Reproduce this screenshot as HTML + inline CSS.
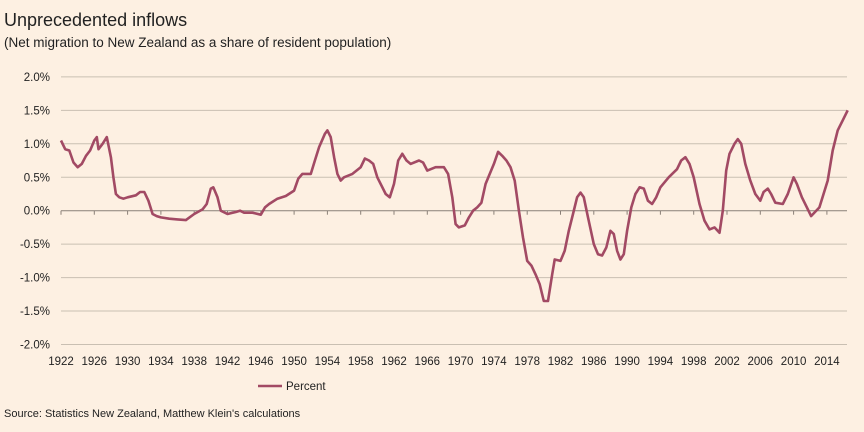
<!DOCTYPE html>
<html><head><meta charset="utf-8"><style>
body{margin:0;background:#fdf0e2;}
svg{display:block;font-family:"Liberation Sans",sans-serif;}
</style></head><body>
<svg id="c" width="864" height="432">
<rect width="864" height="432" fill="#fdf0e2"/>
<text x="4" y="26" font-size="18" fill="#222">Unprecedented inflows</text>
<text x="4" y="47" font-size="13.5" fill="#222">(Net migration to New Zealand as a share of resident population)</text>
<g id="grid"></g><g id="xax"></g>
<path id="ln" fill="none" stroke="#a24a64" stroke-width="2.6" stroke-linejoin="round"/>
<line x1="258" y1="386" x2="282" y2="386" stroke="#a24a64" stroke-width="2.6"/>
<text x="286" y="390" font-size="11.5" fill="#222">Percent</text>
<text x="4" y="417" font-size="11" fill="#222">Source: Statistics New Zealand, Matthew Klein's calculations</text>
</svg>
<script>
const yTicks=[2,1.5,1,0.5,0,-0.5,-1,-1.5,-2];
const xTicks=[1922,1926,1930,1934,1938,1942,1946,1950,1954,1958,1962,1966,1970,1974,1978,1982,1986,1990,1994,1998,2002,2006,2010,2014];
const years=[1922,1922.5,1923,1923.5,1924,1924.5,1925,1925.5,1926,1926.3,1926.5,1927,1927.5,1928,1928.3,1928.6,1929,1929.5,1930,1931,1931.5,1932,1932.5,1933,1933.5,1934,1935,1936,1937,1938,1939,1939.5,1940,1940.3,1940.8,1941.2,1942,1943,1943.5,1944,1945,1946,1946.5,1947,1948,1949,1950,1950.5,1951,1952,1952.5,1953,1953.7,1954,1954.4,1954.8,1955.2,1955.6,1956,1957,1958,1958.5,1959,1959.5,1960,1961,1961.5,1962,1962.5,1963,1963.5,1964,1965,1965.5,1966,1967,1968,1968.5,1969,1969.4,1969.8,1970.5,1971,1971.5,1972,1972.5,1973,1974,1974.5,1975,1975.5,1976,1976.5,1977,1977.5,1978,1978.5,1979,1979.5,1980,1980.5,1981,1981.3,1982,1982.5,1983,1983.5,1984,1984.4,1984.8,1985.3,1986,1986.5,1987,1987.5,1988,1988.4,1988.8,1989.2,1989.6,1990,1990.5,1991,1991.5,1992,1992.5,1993,1993.5,1994,1995,1996,1996.5,1997,1997.5,1998,1998.7,1999.3,1999.9,2000.5,2001.1,2001.5,2001.9,2002.3,2002.9,2003.3,2003.7,2004.2,2004.8,2005.4,2006,2006.4,2006.9,2007.3,2007.8,2008.7,2009.3,2010,2010.4,2011,2011.6,2012.1,2013.1,2014.1,2014.7,2015.3,2015.9,2016.5];
const values=[1.05,0.92,0.9,0.72,0.65,0.7,0.82,0.9,1.05,1.1,0.92,1.0,1.1,0.8,0.5,0.25,0.2,0.18,0.2,0.23,0.28,0.28,0.15,-0.05,-0.08,-0.1,-0.12,-0.13,-0.14,-0.05,0.02,0.1,0.33,0.35,0.2,0.0,-0.05,-0.02,0.0,-0.03,-0.03,-0.06,0.05,0.1,0.18,0.22,0.3,0.48,0.55,0.55,0.75,0.95,1.15,1.2,1.1,0.8,0.55,0.45,0.5,0.55,0.65,0.78,0.75,0.7,0.5,0.25,0.2,0.4,0.75,0.85,0.75,0.7,0.75,0.72,0.6,0.65,0.65,0.55,0.2,-0.2,-0.25,-0.22,-0.1,0.0,0.05,0.12,0.4,0.7,0.88,0.82,0.75,0.65,0.45,0.0,-0.4,-0.75,-0.82,-0.95,-1.1,-1.35,-1.35,-0.95,-0.73,-0.75,-0.6,-0.3,-0.05,0.2,0.27,0.2,-0.1,-0.5,-0.65,-0.67,-0.55,-0.3,-0.35,-0.6,-0.73,-0.65,-0.3,0.05,0.25,0.35,0.33,0.15,0.1,0.2,0.35,0.5,0.62,0.75,0.8,0.7,0.5,0.1,-0.15,-0.28,-0.25,-0.33,0.0,0.6,0.85,1.0,1.07,1.0,0.7,0.45,0.25,0.15,0.28,0.33,0.25,0.12,0.1,0.25,0.5,0.4,0.2,0.05,-0.08,0.05,0.45,0.9,1.2,1.35,1.5];
const X=y=>61+(y-1922)*(33.3/4);
const Y=v=>210.7-v*66.9;
const NS="http://www.w3.org/2000/svg";
const g=document.getElementById('grid'),xa=document.getElementById('xax');
yTicks.forEach(t=>{
 const l=document.createElementNS(NS,'line');
 l.setAttribute('x1',61);l.setAttribute('x2',847);l.setAttribute('y1',Y(t));l.setAttribute('y2',Y(t));
 l.setAttribute('stroke',t===0?'#8a8078':'#c9bfb2');l.setAttribute('stroke-width',1);
 
 
 g.appendChild(l);
 const tx=document.createElementNS(NS,'text');
 tx.setAttribute('x',50);tx.setAttribute('y',Y(t)+4);tx.setAttribute('text-anchor','end');tx.setAttribute('font-size','11.5');tx.setAttribute('fill','#222');
 tx.textContent=t.toFixed(1)+'%';
 
 
 g.appendChild(tx);
});
xTicks.forEach(t=>{
 const l=document.createElementNS(NS,'line');
 l.setAttribute('x1',X(t));l.setAttribute('x2',X(t));l.setAttribute('y1',Y(0));l.setAttribute('y2',Y(0)+4);
 l.setAttribute('stroke','#8a8078');
 
 
 xa.appendChild(l);
 const tx=document.createElementNS(NS,'text');
 tx.setAttribute('x',X(t));tx.setAttribute('y',365);tx.setAttribute('text-anchor','middle');tx.setAttribute('font-size','11.5');tx.setAttribute('fill','#222');
 tx.textContent=t;
 
 
 xa.appendChild(tx);
});
document.getElementById('ln').setAttribute('d',years.map((y,i)=>(i?'L':'M')+X(y).toFixed(1)+','+Y(values[i]).toFixed(1)).join(''));
</script>
</body></html>
